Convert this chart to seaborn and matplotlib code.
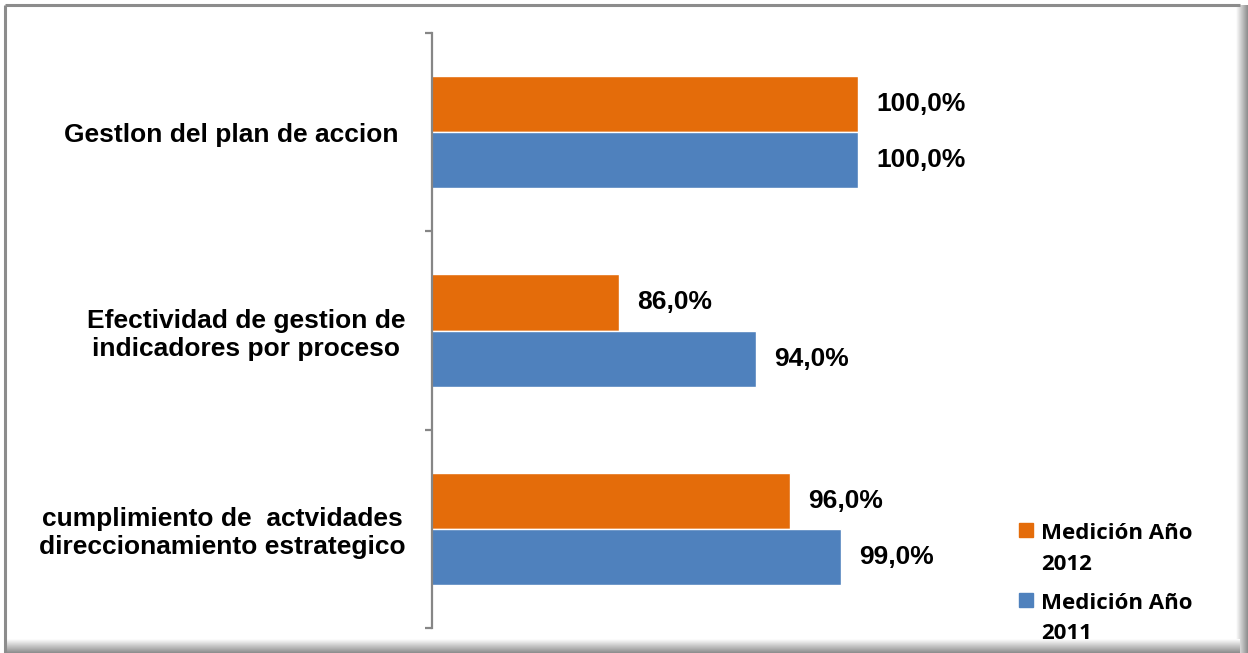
import numpy as np
import pandas as pd
import matplotlib
matplotlib.use("Agg")
import matplotlib.pyplot as plt
from matplotlib.patches import Rectangle
from matplotlib.legend_handler import HandlerPatch
import seaborn as sns

# ---- data -------------------------------------------------------------
categorias = [
    "Gestlon del plan de accion ",
    "Efectividad de gestion de\nindicadores por proceso",
    "cumplimiento de  actvidades\ndireccionamiento estrategico",
]
series = ["Medición Año\n2012", "Medición Año\n2011"]
valores_2012 = [100.0, 86.0, 96.0]
valores_2011 = [100.0, 94.0, 99.0]
colores = ["#E46C0A", "#4F81BD"]

df = pd.DataFrame({
    "categoria": categorias * 2,
    "valor": valores_2012 + valores_2011,
    "serie": [series[0]] * 3 + [series[1]] * 3,
})

# ---- figure -----------------------------------------------------------
sns.set_theme(style="white")
plt.rcParams["font.family"] = ["Liberation Sans", "DejaVu Sans"]
plt.rcParams["text.color"] = "black"

W, H = 1248, 653
fig = plt.figure(figsize=(W / 100, H / 100), dpi=100, facecolor="white")

# frame with soft shadow on the right and bottom edges
frame = fig.add_axes([0, 0, 1, 1], zorder=-1)
frame.set_xlim(0, W)
frame.set_ylim(H, 0)
frame.axis("off")
g = np.linspace(1.0, 0.55, 64)
frame.imshow(np.tile(g, (2, 1)), cmap="gray", vmin=0, vmax=1, aspect="auto",
             extent=(1236, W, H, 5), interpolation="bilinear")
frame.imshow(np.tile(g[:, None], (1, 2)), cmap="gray", vmin=0, vmax=1, aspect="auto",
             extent=(5, 1240, 653, 639), interpolation="bilinear")
frame.plot([5, 1240], [5, 5], color="#8c8c8c", lw=2.2, solid_capstyle="butt")
frame.plot([5, 5], [5, 653], color="#8c8c8c", lw=2.2, solid_capstyle="butt")

# plot area in pixel coordinates
left, right, top, bottom = 432, 858, 33, 628
ax = fig.add_axes([left / W, 1 - bottom / H, (right - left) / W, (bottom - top) / H])
ax.set_facecolor("none")

sns.barplot(data=df, y="categoria", x="valor", hue="serie", hue_order=series,
            palette=colores, orient="h", width=0.566, saturation=1,
            legend=False, ax=ax)

ax.set_xlim(75, 100)
ax.set_ylim(2.5, -0.5)
ax.set_xlabel("")
ax.set_ylabel("")
ax.set_xticks([])

for s in ["top", "right", "bottom"]:
    ax.spines[s].set_visible(False)
ax.spines["left"].set_color("#868686")
ax.spines["left"].set_linewidth(1.6)

ax.set_yticks(range(len(categorias)))
ax.set_yticklabels(categorias, fontsize=19, fontweight="bold", color="black")
for lab in ax.get_yticklabels():
    lab.set_multialignment("center")
ax.tick_params(axis="y", which="major", length=0, pad=19)
ax.set_yticks([-0.5, 0.5, 1.5, 2.5], minor=True)
ax.tick_params(axis="y", which="minor", length=5, width=1.6, color="#868686",
               direction="out", left=True)

for cont, vals in zip(ax.containers, [valores_2012, valores_2011]):
    ax.bar_label(cont, labels=[f"{v:.1f}%".replace(".", ",") for v in vals],
                 padding=13, fontsize=19, fontweight="bold", color="black",
                 clip_on=False)


# legend: square aligned with the first line of each entry
def _square(legend, orig_handle, xdescent, ydescent, width, height, fontsize):
    side = 0.62 * fontsize
    return Rectangle((-xdescent, -ydescent + 0.87 * fontsize), side, side)


handles = [Rectangle((0, 0), 1, 1, color=c) for c in colores]
leg = fig.legend(handles, series, loc="upper left",
                 bbox_to_anchor=(1019 / W, 1 - 523 / H),
                 frameon=False, handlelength=0.62, handleheight=0.62,
                 handletextpad=0.36, labelspacing=0.82, borderpad=0,
                 borderaxespad=0,
                 prop={"family": "Open Sans", "weight": "bold", "size": 16},
                 handler_map={Rectangle: HandlerPatch(patch_func=_square)})
for t in leg.get_texts():
    t.set_linespacing(1.6)
    t.set_color("black")

fig.savefig("out.png", dpi=100, facecolor="white")
